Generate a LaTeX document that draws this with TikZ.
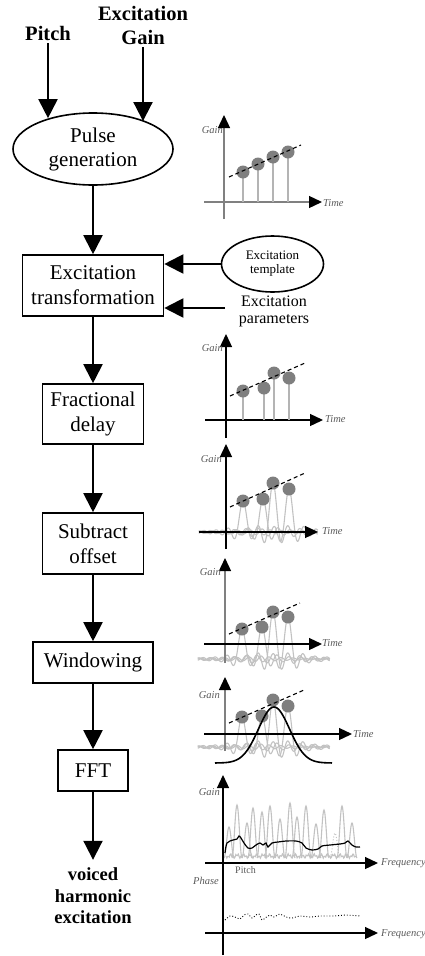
\documentclass[tikz,border=0pt]{standalone}
\usepackage{fontspec}
\setmainfont{Liberation Serif}
\usetikzlibrary{arrows.meta,shapes.geometric}
\definecolor{dotgray}{HTML}{7F7F7F}
\definecolor{stemgray}{HTML}{B4B4B4}
\definecolor{ripgray}{HTML}{C2C2C2}
\definecolor{axgray}{HTML}{808080}
\definecolor{labgray}{HTML}{5A5A5A}
\begin{document}
\begin{tikzpicture}[x=1pt,y=-1pt,
  flow/.style={line width=2pt,-{Triangle[width=19pt,length=19pt]}},
  procbox/.style={draw,line width=1.6pt,align=center,inner sep=0pt,font=\fontsize{21}{25}\selectfont},
  bigell/.style={ellipse,draw,line width=1.6pt,align=center,inner sep=0pt,font=\fontsize{21}{24}\selectfont},
  smallell/.style={ellipse,draw,line width=1.6pt,align=center,inner sep=0pt,font=\fontsize{13}{14}\selectfont},
  titletxt/.style={font=\fontsize{20.5}{24}\selectfont\bfseries,inner sep=3pt,align=center},
  axisline/.style={line width=1.3pt,-{Triangle[width=12pt,length=13pt,color=black]}},
  stem/.style={stemgray,line width=1.2pt},
  trend/.style={dash pattern=on 4pt off 3pt,line width=1.1pt},
  rip/.style={ripgray,line width=1.1pt},
  lab/.style={font=\fontsize{10.5}{12}\selectfont\itshape,text=labgray,inner sep=0pt},
  rlab/.style={font=\fontsize{10}{12}\selectfont,text=labgray,inner sep=0pt}
]
\useasboundingbox (0,0) rectangle (424,956);

% ---------------- flow chart ----------------
\node[titletxt,anchor=base] (pitch) at (48,40) {Pitch};
\node[titletxt] (egain) at (143,25) {Excitation\\Gain};
\node[bigell,minimum width=160pt,minimum height=72pt] (pulse) at (93,149) {Pulse\\generation};
\node[procbox,minimum width=141pt,minimum height=61pt] (exc) at (93,285.5) {Excitation\\transformation};
\node[smallell,minimum width=102pt,minimum height=56pt] (tmpl) at (272.5,264) {Excitation\\template};
\node[font=\fontsize{16}{17}\selectfont,align=center,inner sep=0pt] (params) at (274,311.5) {Excitation\\parameters};
\coordinate (pin) at (225,308);
\node[procbox,minimum width=101pt,minimum height=60pt] (frac) at (93,414) {Fractional\\delay};
\node[procbox,minimum width=101pt,minimum height=61pt] (sub) at (93,543.5) {Subtract\\offset};
\node[procbox,minimum width=120pt,minimum height=41pt] (win) at (93,662.5) {Windowing};
\node[procbox,minimum width=70pt,minimum height=41pt] (fft) at (93,770.5) {FFT};
\node[font=\fontsize{18.5}{21.5}\selectfont\bfseries,align=center,inner sep=0pt] (out) at (93,896) {voiced\\harmonic\\excitation};

\draw[flow] (pitch.south) -- (pitch.south |- pulse.145);
\draw[flow] (egain.south) -- (egain.south |- pulse.28);
\draw[flow] (pulse.south) -- (exc.north);
\draw[flow] (tmpl.west) -- (tmpl.west -| exc.east);
\draw[flow] (pin) -- (pin -| exc.east);
\draw[flow] (exc.south) -- (frac.north);
\draw[flow] (frac.south) -- (sub.north);
\draw[flow] (sub.south) -- (win.north);
\draw[flow] (win.south) -- (fft.north);
\draw[flow] (fft.south) -- ([yshift=8pt]out.north);

% ---------------- graph 1: pulse generation ----------------
\draw[axisline,axgray] (224,219) -- (224,115);
\draw[axisline,axgray] (204,202) -- (322,202);
\node[lab,anchor=base east] at (223,133) {Gain};
\node[lab,anchor=base west] at (323,206) {Time};
\foreach \px/\py in {243/172,258/164,273/157,288/152}{
  \draw[stem] (\px,202) -- (\px,\py);
  \fill[dotgray] (\px,\py) circle[radius=6.5];}
\draw[trend] (229,177) -- (301,145);

% ---------------- graph 2: excitation transformation ----------------
\draw[axisline] (226,438) -- (226,334);
\draw[axisline] (205,420) -- (323,420);
\node[lab,anchor=base east] at (223,351) {Gain};
\node[lab,anchor=base west] at (325,422) {Time};
\foreach \px/\py in {243/391,264/388,274/373,289/378}{
  \draw[stem] (\px,420) -- (\px,\py);
  \fill[dotgray] (\px,\py) circle[radius=6.5];}
\draw[trend] (230,396) -- (305,363);

% ---------------- graph 3: fractional delay ----------------
\foreach \px/\py in {243/501,263/499,273/483,289/489}{
  \draw[rip] plot[samples at={198.75,199.25,...,317.75}] (\x,{532-(532-\py)*sin(180*(\x-\px)/6)/(pi*(\x-\px)/6)});}
\draw[axisline] (226,549) -- (226,444);
\draw[axisline] (199,532) -- (318,532);
\node[lab,anchor=base east] at (222,462) {Gain};
\node[lab,anchor=base west] at (322,534) {Time};
\foreach \px/\py in {243/501,263/499,273/483,289/489}{
  \fill[dotgray] (\px,\py) circle[radius=6.5];}
\draw[trend] (230,507) -- (305,473);

% ---------------- graph 4: subtract offset ----------------
\foreach \px/\py in {242/629,262/627,273/612,288/617}{
  \draw[rip] plot[samples at={197.75,198.25,...,329.75}] (\x,{659-(659-\py)*sin(180*(\x-\px)/6)/(pi*(\x-\px)/6)});}
\draw[axisline,axgray] (225,663) -- (225,558);
\draw[axisline] (204,644) -- (322,644);
\node[lab,anchor=base east] at (221,575) {Gain};
\node[lab,anchor=base west] at (322,646) {Time};
\foreach \px/\py in {242/629,262/627,273/612,288/617}{
  \fill[dotgray] (\px,\py) circle[radius=6.5];}
\draw[trend] (229,634) -- (300,603);

% ---------------- graph 5: windowing ----------------
\foreach \px/\py in {242/717,262/716,273/700,288/706}{
  \draw[rip] plot[samples at={197.75,198.25,...,329.75}] (\x,{747-(747-\py)*sin(180*(\x-\px)/6)/(pi*(\x-\px)/6)});}
\draw[axisline,axgray] (225,751) -- (225,677);
\draw[axisline] (204,734) -- (352,734);
\node[lab,anchor=base east] at (220,698) {Gain};
\node[lab,anchor=base west] at (353,737) {Time};
\foreach \px/\py in {242/717,262/716,273/700,288/706}{
  \fill[dotgray] (\px,\py) circle[radius=6.5];}
\draw[trend] (229,723) -- (304,690);
\draw[line width=1.6pt] plot[domain=215:332,samples=90] (\x,{763-56*exp(-((\x-274)/22)^2)});

% ---------------- graph 6: FFT ----------------
\draw[rip] plot[domain=0:130,samples=160] ({226+\x},{856+2.5*sin(97*\x)*cos(41*\x)});
\foreach \px/\py in {229/827,237/805,247/823,253/808,262/812,270/806,280/819,290/803,297/817,306/806,316/824,324/810,342/806,352/823}{
  \draw[rip] plot[domain=-5:5,samples=21] ({\px+\x},{858-(858-\py)*pow(cos(18*\x),2)});}
\draw[ripgray,dotted,line width=1pt] plot[domain=-5:5,samples=21] ({335+\x},{858-25*pow(cos(18*\x),2)});
\draw[line width=1.2pt] plot[smooth] coordinates {(225,853) (227,843) (233,840) (237,839) (239,836) (241,838) (244,843) (248,848) (252,848) (256,845) (260,843) (263,845) (266,843) (268,847) (272,843) (278,842) (286,841) (296,841) (302,843) (306,848) (312,850) (318,849) (322,846) (330,845) (340,844) (345,843) (348,841) (352,845) (356,847) (360,847)};
\draw[dotted,line width=0.9pt] plot[smooth] coordinates {(225,920) (230,916) (235,917) (240,919) (244,915) (248,914) (252,918) (256,915) (259,914) (262,920) (265,918) (270,915) (274,917) (280,914) (286,917) (292,918) (300,916) (310,917) (320,916) (335,916) (345,915) (360,916)};
\draw[axisline] (223,955) -- (223,775);
\draw[axisline] (205,863) -- (378,863);
\draw[axisline] (205,933) -- (378,933);
\node[lab,anchor=base east] at (220,795) {Gain};
\node[lab,anchor=base west] at (381,865) {Frequency};
\node[rlab,anchor=base west] at (235,873) {Pitch};
\node[lab,anchor=base west] at (193,884) {Phase};
\node[lab,anchor=base west] at (381,936) {Frequency};
\end{tikzpicture}
\end{document}
